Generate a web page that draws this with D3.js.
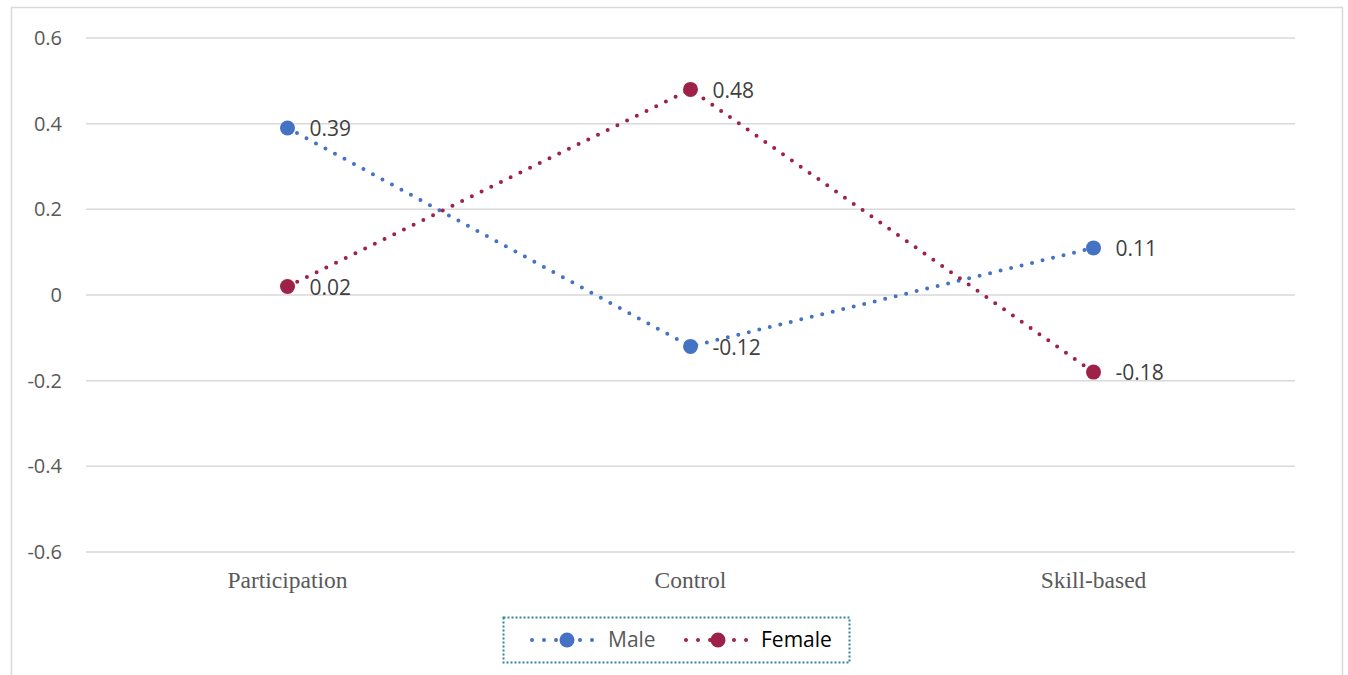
<!DOCTYPE html>
<html>
<head>
<meta charset="utf-8">
<script src="https://cdn.jsdelivr.net/npm/d3@7"></script>
<style>
  html, body { margin: 0; padding: 0; background: #fff; }
  svg { display: block; }
</style>
</head>
<body>
<svg id="chart" width="1348" height="675"></svg>
<script>
// Category labels and series values
const categories = ["Participation", "Control", "Skill-based"];
const maleValues = [0.39, -0.12, 0.11];
const femaleValues = [0.02, 0.48, -0.18];
const yTicks = [0.6, 0.4, 0.2, 0, -0.2, -0.4, -0.6];
const seriesNames = ["Male", "Female"];

const colors = { Male: "#4472C4", Female: "#9E2148" };
const series = [
  { name: seriesNames[0], values: maleValues },
  { name: seriesNames[1], values: femaleValues }
];

// Plain hyphen-minus for negative numbers
const fmt = d => String(d);

const svg = d3.select("#chart");

// Outer chart frame
svg.append("rect")
  .attr("x", 11.5).attr("y", 7.5)
  .attr("width", 1331).attr("height", 680)
  .attr("fill", "none").attr("stroke", "#d9d9d9").attr("stroke-width", 1.5);

const plot = { left: 86, right: 1295, top: 38, bottom: 552 };

const x = d3.scaleBand().domain(categories).range([plot.left, plot.right]);
const y = d3.scaleLinear().domain([-0.6, 0.6]).range([plot.bottom, plot.top]);
const cx = c => x(c) + x.bandwidth() / 2;

const sansFont = "'Open Sans', 'Noto Sans', sans-serif";

// Horizontal gridlines
svg.append("g").selectAll("line").data(yTicks).join("line")
  .attr("x1", plot.left).attr("x2", plot.right)
  .attr("y1", d => y(d)).attr("y2", d => y(d))
  .attr("stroke", "#d9d9d9").attr("stroke-width", 1.5);

// Y axis labels
svg.append("g").selectAll("text").data(yTicks).join("text")
  .attr("x", 62).attr("y", d => y(d))
  .attr("dy", "0.35em")
  .attr("text-anchor", "end")
  .attr("font-family", sansFont).attr("font-size", 20)
  .attr("fill", "#595959")
  .text(fmt);

// Category labels
svg.append("g").selectAll("text").data(categories).join("text")
  .attr("x", d => cx(d)).attr("y", 588)
  .attr("text-anchor", "middle")
  .attr("font-family", "'Liberation Serif', 'Times New Roman', serif")
  .attr("font-size", 23.5)
  .attr("fill", "#595959")
  .text(d => d);

const line = d3.line()
  .x((d, i) => cx(categories[i]))
  .y(d => y(d));

// Dotted series lines
svg.append("g").selectAll("path").data(series).join("path")
  .attr("d", s => line(s.values))
  .attr("fill", "none")
  .attr("stroke", s => colors[s.name])
  .attr("stroke-width", 4)
  .attr("stroke-linecap", "round")
  .attr("stroke-dasharray", "0 10.8");

// Markers and value labels
series.forEach(s => {
  const g = svg.append("g");
  g.selectAll("circle").data(s.values).join("circle")
    .attr("cx", (d, i) => cx(categories[i]))
    .attr("cy", d => y(d))
    .attr("r", 7.5)
    .attr("fill", colors[s.name]);
  g.selectAll("text").data(s.values).join("text")
    .attr("x", (d, i) => cx(categories[i]) + 22)
    .attr("y", d => y(d) + 1)
    .attr("dy", "0.35em")
    .attr("font-family", sansFont).attr("font-size", 21)
    .attr("fill", "#404040")
    .text(fmt);
});

// Legend
const legend = svg.append("g");
legend.append("rect")
  .attr("x", 503.5).attr("y", 617.5).attr("width", 346).attr("height", 45)
  .attr("fill", "none").attr("stroke", "#31869B").attr("stroke-width", 2)
  .attr("stroke-dasharray", "2 2");

const legendItems = [
  { name: seriesNames[0], x0: 532, xm: 567, x1: 597, tx: 608, tc: "#595959" },
  { name: seriesNames[1], x0: 686, xm: 718, x1: 748, tx: 761, tc: "#000000" }
];
const ly = 640;
legendItems.forEach(it => {
  legend.append("line")
    .attr("x1", it.x0).attr("x2", it.x1).attr("y1", ly).attr("y2", ly)
    .attr("stroke", colors[it.name]).attr("stroke-width", 4)
    .attr("stroke-linecap", "round").attr("stroke-dasharray", "0 12");
  legend.append("circle")
    .attr("cx", it.xm).attr("cy", ly).attr("r", 7.5)
    .attr("fill", colors[it.name]);
  legend.append("text")
    .attr("x", it.tx).attr("y", ly).attr("dy", "0.35em")
    .attr("font-family", sansFont).attr("font-size", 21)
    .attr("fill", it.tc)
    .text(it.name);
});
</script>
</body>
</html>
